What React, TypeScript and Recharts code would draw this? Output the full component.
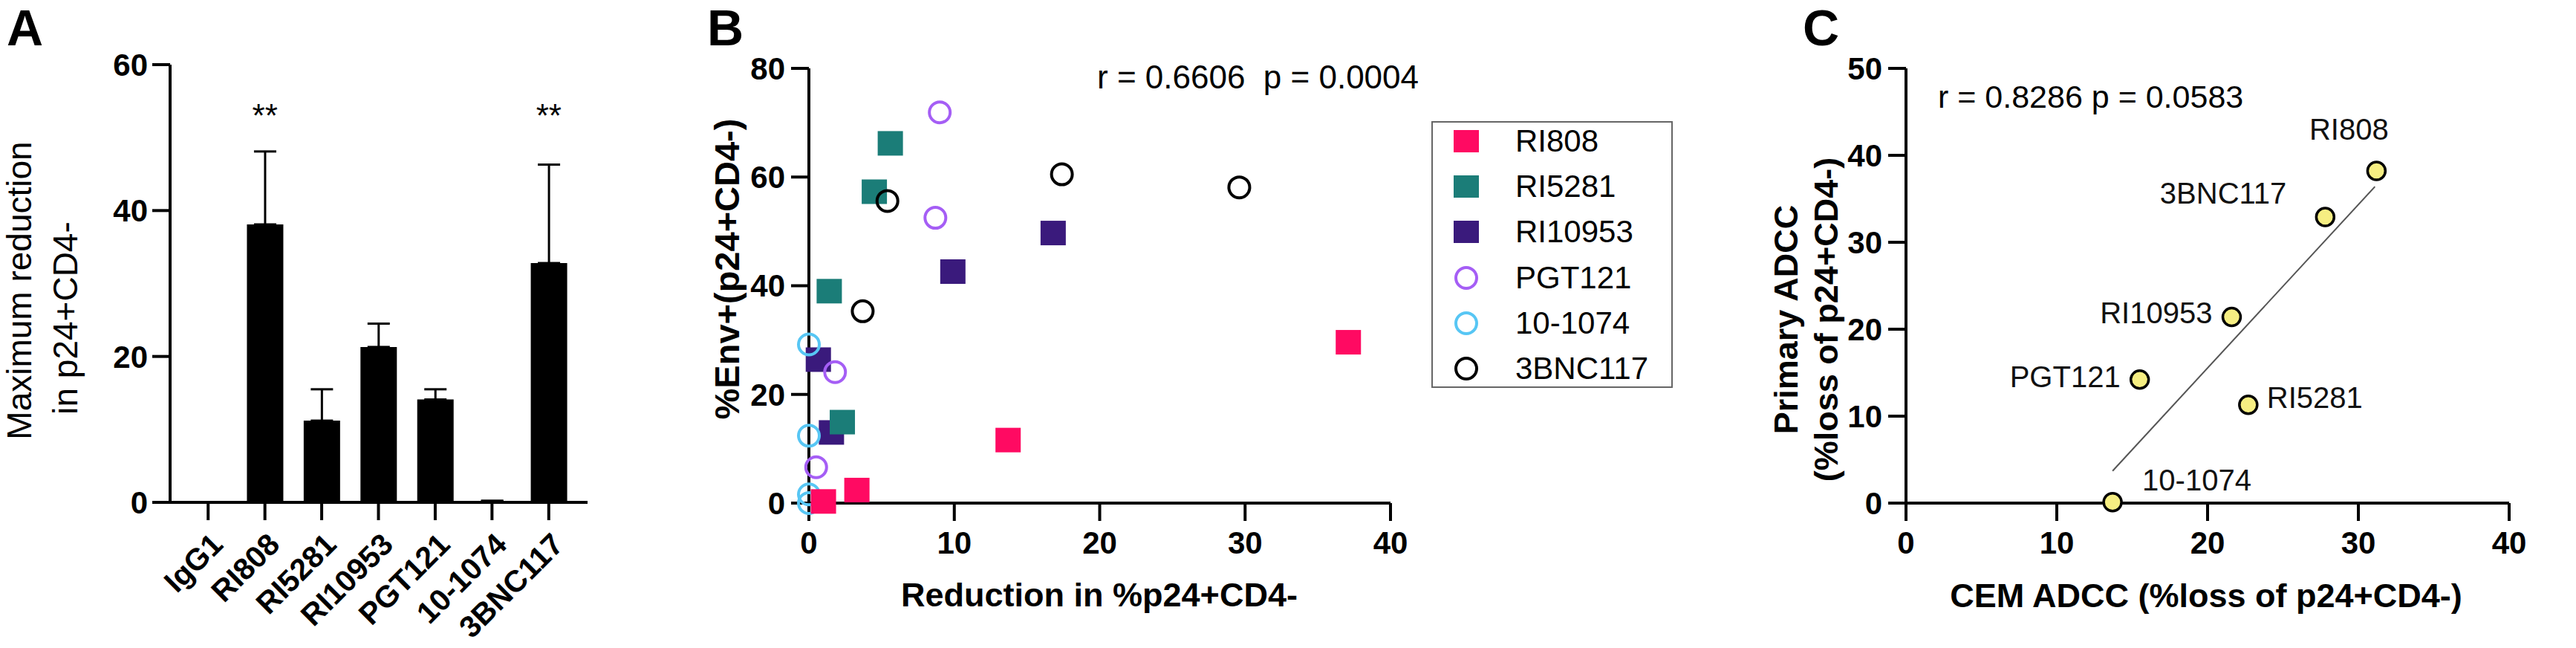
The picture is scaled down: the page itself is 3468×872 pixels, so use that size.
import React from 'react';
import {
  BarChart, Bar, ErrorBar, XAxis, YAxis, ScatterChart, Scatter,
  ReferenceDot, ReferenceLine, Legend,
} from 'recharts';

const FONT = '"Liberation Sans", Arial, Helvetica, sans-serif';

// ---- panel A: max reduction per antibody
const antibodies = ['IgG1', 'RI808', 'RI5281', 'RI10953', 'PGT121', '10-1074', '3BNC117'];
const maxReduction = [0, 38.1, 11.2, 21.3, 14.1, 0.2, 32.8];
const reductionErr = [0, 10.0, 4.3, 3.2, 1.4, 0, 13.5];
const significant = ['RI808', '3BNC117'];
const starLevel = 54;

// ---- panel B: reduction vs %Env+
const ri808Red = [37.1, 13.7, 3.3, 1.0];
const ri808Env = [29.6, 11.6, 2.4, 0.3];
const ri5281Red = [5.6, 4.5, 1.4, 2.3];
const ri5281Env = [66.2, 57.3, 39.0, 14.9];
const ri10953Red = [16.8, 9.9, 0.65, 1.55];
const ri10953Env = [49.7, 42.6, 26.4, 13.0];
const pgt121Red = [9.0, 8.7, 1.8, 0.5];
const pgt121Env = [71.9, 52.5, 24.1, 6.6];
const x1074Red = [0, 0, 0, 0];
const x1074Env = [29.2, 12.4, 1.6, 0];
const bnc117Red = [17.4, 29.6, 5.4, 3.7];
const bnc117Env = [60.5, 58.1, 55.6, 35.3];

// ---- panel C: CEM vs primary ADCC
const cNames = ['RI808', '3BNC117', 'RI10953', 'PGT121', 'RI5281', '10-1074'];
const cemAdcc = [31.2, 27.8, 21.6, 15.5, 22.7, 13.7];
const primaryAdcc = [38.2, 32.9, 21.4, 14.2, 11.3, 0.1];
const fitX = [13.7, 31.1];
const fitY = [3.7, 36.4];

const barData = antibodies.map((name, i) => ({
  name,
  value: maxReduction[i],
  err: [0, reductionErr[i]],
}));

const pts = (xs: number[], ys: number[]) => xs.map((x, i) => ({ x, y: ys[i] }));

type SeriesDef = { name: string; data: { x: number; y: number }[]; color: string; kind: 'square' | 'circle' };

const seriesB: Record<string, SeriesDef> = {
  RI808: { name: 'RI808', data: pts(ri808Red, ri808Env), color: '#ff0a62', kind: 'square' },
  RI5281: { name: 'RI5281', data: pts(ri5281Red, ri5281Env), color: '#1b7d78', kind: 'square' },
  RI10953: { name: 'RI10953', data: pts(ri10953Red, ri10953Env), color: '#3a1a7c', kind: 'square' },
  PGT121: { name: 'PGT121', data: pts(pgt121Red, pgt121Env), color: '#a55ef5', kind: 'circle' },
  '10-1074': { name: '10-1074', data: pts(x1074Red, x1074Env), color: '#57c6f4', kind: 'circle' },
  '3BNC117': { name: '3BNC117', data: pts(bnc117Red, bnc117Env), color: '#000000', kind: 'circle' },
};
const legendOrder = ['RI808', 'RI5281', 'RI10953', 'PGT121', '10-1074', '3BNC117'];
const drawOrder = ['RI10953', 'RI5281', 'PGT121', '10-1074', '3BNC117', 'RI808'];

const cData = cNames.map((name, i) => ({ name, x: cemAdcc[i], y: primaryAdcc[i] }));
const labelPos: Record<string, { dx: number; dy: number; anchor: 'start' | 'middle' | 'end' }> = {
  RI808: { dx: -37, dy: -56, anchor: 'middle' },
  '3BNC117': { dx: -52, dy: -32, anchor: 'end' },
  RI10953: { dx: -26, dy: -6, anchor: 'end' },
  PGT121: { dx: -26, dy: -4, anchor: 'end' },
  RI5281: { dx: 25, dy: -10, anchor: 'start' },
  '10-1074': { dx: 40, dy: -30, anchor: 'start' },
};

const axisLine = { stroke: '#000', strokeWidth: 4 };
const tickStyle = { fill: '#000', fontSize: 42, fontWeight: 700, fontFamily: FONT };

const markerShape = (s: SeriesDef) => (props: any) => {
  const { cx, cy } = props;
  if (s.kind === 'square') {
    return <rect x={cx - 17} y={cy - 16.5} width={34} height={33} fill={s.color} />;
  }
  return <circle cx={cx} cy={cy} r={14} fill="none" stroke={s.color} strokeWidth={4} />;
};

const RotatedTick = (props: any) => {
  const { x, y, payload } = props;
  return (
    <g transform={`translate(${x + 12},${y + 25})`}>
      <text transform="rotate(-45)" textAnchor="end" dy="0.35em" fill="#000"
        fontSize={41} fontWeight={700} fontFamily={FONT}>
        {payload.value}
      </text>
    </g>
  );
};

const LegendBox = () => (
  <div style={{
    position: 'relative', width: 325, height: 359, boxSizing: 'border-box',
    border: '2px solid #666', background: '#fff', fontFamily: FONT,
  }}>
    {legendOrder.map((key, i) => {
      const s = seriesB[key];
      return (
        <div key={key} style={{
          position: 'absolute', left: 0, top: 25 + i * 61.2 - 30, height: 60,
          display: 'flex', alignItems: 'center',
        }}>
          <svg width={40} height={40} style={{ marginLeft: 25 }}>
            {s.kind === 'square'
              ? <rect x={3} y={5} width={34} height={30} fill={s.color} />
              : <circle cx={20} cy={20} r={14} fill="none" stroke={s.color} strokeWidth={4} />}
          </svg>
          <span style={{ marginLeft: 46, fontSize: 42, color: '#000' }}>{s.name}</span>
        </div>
      );
    })}
  </div>
);

const CPoint = (props: any) => {
  const { cx, cy, payload } = props;
  const lp = labelPos[payload.name];
  return (
    <g>
      <circle cx={cx} cy={cy} r={12} fill="#f6ee82" stroke="#000" strokeWidth={3.5} />
      <text x={cx + lp.dx} y={cy + lp.dy} textAnchor={lp.anchor} dominantBaseline="central"
        fontSize={40} fontFamily={FONT} fill="#111">
        {payload.name}
      </text>
    </g>
  );
};

const StarMark = (props: any) => (
  <text x={props.cx} y={props.cy} dy="0.57em" textAnchor="middle" fontSize={44}
    fontFamily={FONT} fill="#000">**</text>
);

export default function App() {
  return (
    <div style={{ position: 'absolute', left: 0, top: 0, width: 3468, height: 872, background: '#fff' }}>
      {/* A */}
      <div style={{ position: 'absolute', left: 0, top: 0 }}>
        <BarChart width={830} height={872} data={barData}
          margin={{ top: 87, right: 39, bottom: 46, left: 129 }}>
          <XAxis dataKey="name" interval={0} height={150} padding={{ left: 13, right: 14 }}
            axisLine={axisLine} tickLine={axisLine} tickSize={24} tickMargin={0}
            tick={<RotatedTick />} />
          <YAxis width={100} domain={[0, 60]} ticks={[0, 20, 40, 60]} axisLine={axisLine}
            tickLine={axisLine} tickSize={24} tickMargin={6} tick={tickStyle} />
          <Bar dataKey="value" fill="#000" barSize={49} isAnimationActive={false}>
            <ErrorBar dataKey="err" width={15} strokeWidth={3} stroke="#000" isAnimationActive={false} />
          </Bar>
          {significant.map((name) => (
            <ReferenceDot key={name} x={name} y={starLevel} r={0} shape={StarMark} />
          ))}
        </BarChart>
      </div>

      {/* B */}
      <div style={{ position: 'absolute', left: 960, top: 0 }}>
        <ScatterChart width={1340} height={872} margin={{ top: 92, right: 428, bottom: 135, left: 49 }}>
          <XAxis type="number" dataKey="x" domain={[0, 40]} ticks={[0, 10, 20, 30, 40]} height={60}
            axisLine={axisLine} tickLine={axisLine} tickSize={24} tickMargin={14} tick={tickStyle} />
          <YAxis type="number" dataKey="y" domain={[0, 80]} ticks={[0, 20, 40, 60, 80]} width={80}
            axisLine={axisLine} tickLine={axisLine} tickSize={24} tickMargin={8} tick={tickStyle} />
          {drawOrder.map((key) => (
            <Scatter key={key} name={key} data={seriesB[key].data}
              shape={markerShape(seriesB[key])} isAnimationActive={false} />
          ))}
          <Legend layout="vertical" align="center" verticalAlign="middle"
            wrapperStyle={{ left: 967, top: 163, width: 325, height: 359 }}
            content={() => <LegendBox />} />
        </ScatterChart>
      </div>

      {/* C */}
      <div style={{ position: 'absolute', left: 2380, top: 0 }}>
        <ScatterChart width={1088} height={872} margin={{ top: 92, right: 90, bottom: 135, left: 106 }}>
          <XAxis type="number" dataKey="x" domain={[0, 40]} ticks={[0, 10, 20, 30, 40]} height={60}
            axisLine={axisLine} tickLine={axisLine} tickSize={24} tickMargin={14} tick={tickStyle} />
          <YAxis type="number" dataKey="y" domain={[0, 50]} ticks={[0, 10, 20, 30, 40, 50]} width={80}
            axisLine={axisLine} tickLine={axisLine} tickSize={24} tickMargin={8} tick={tickStyle} />
          <ReferenceLine segment={[{ x: fitX[0], y: fitY[0] }, { x: fitX[1], y: fitY[1] }]}
            stroke="#555" strokeWidth={2} />
          <Scatter data={cData} shape={CPoint} isAnimationActive={false} />
        </ScatterChart>
      </div>

      {/* free text */}
      <svg width={3468} height={872} style={{ position: 'absolute', left: 0, top: 0, pointerEvents: 'none' }}
        fontFamily={FONT}>
        <text x={9} y={61} fontSize={68} fontWeight={700}>A</text>
        <text x={952} y={61} fontSize={68} fontWeight={700}>B</text>
        <text x={2427} y={61} fontSize={68} fontWeight={700}>C</text>

        <text transform="translate(26,391) rotate(-90)" textAnchor="middle" dominantBaseline="central"
          fontSize={46}>Maximum reduction</text>
        <text transform="translate(88,428) rotate(-90)" textAnchor="middle" dominantBaseline="central"
          fontSize={46}>in p24+CD4-</text>

        <text transform="translate(978,362) rotate(-90)" textAnchor="middle" dominantBaseline="central"
          fontSize={47} fontWeight={700}>%Env+(p24+CD4-)</text>
        <text x={1480} y={800} textAnchor="middle" dominantBaseline="central" fontSize={45}
          fontWeight={700}>Reduction in %p24+CD4-</text>
        <text x={1477} y={103} dominantBaseline="central" fontSize={44} xmlSpace="preserve">
          r = 0.6606  p = 0.0004
        </text>

        <text transform="translate(2404,430) rotate(-90)" textAnchor="middle" dominantBaseline="central"
          fontSize={45} fontWeight={700}>Primary ADCC</text>
        <text transform="translate(2458,430) rotate(-90)" textAnchor="middle" dominantBaseline="central"
          fontSize={45} fontWeight={700}>(%loss of p24+CD4-)</text>
        <text x={2970} y={801} textAnchor="middle" dominantBaseline="central" fontSize={45}
          fontWeight={700}>CEM ADCC (%loss of p24+CD4-)</text>
        <text x={2609} y={130} dominantBaseline="central" fontSize={43}>r = 0.8286 p = 0.0583</text>
      </svg>
    </div>
  );
}
